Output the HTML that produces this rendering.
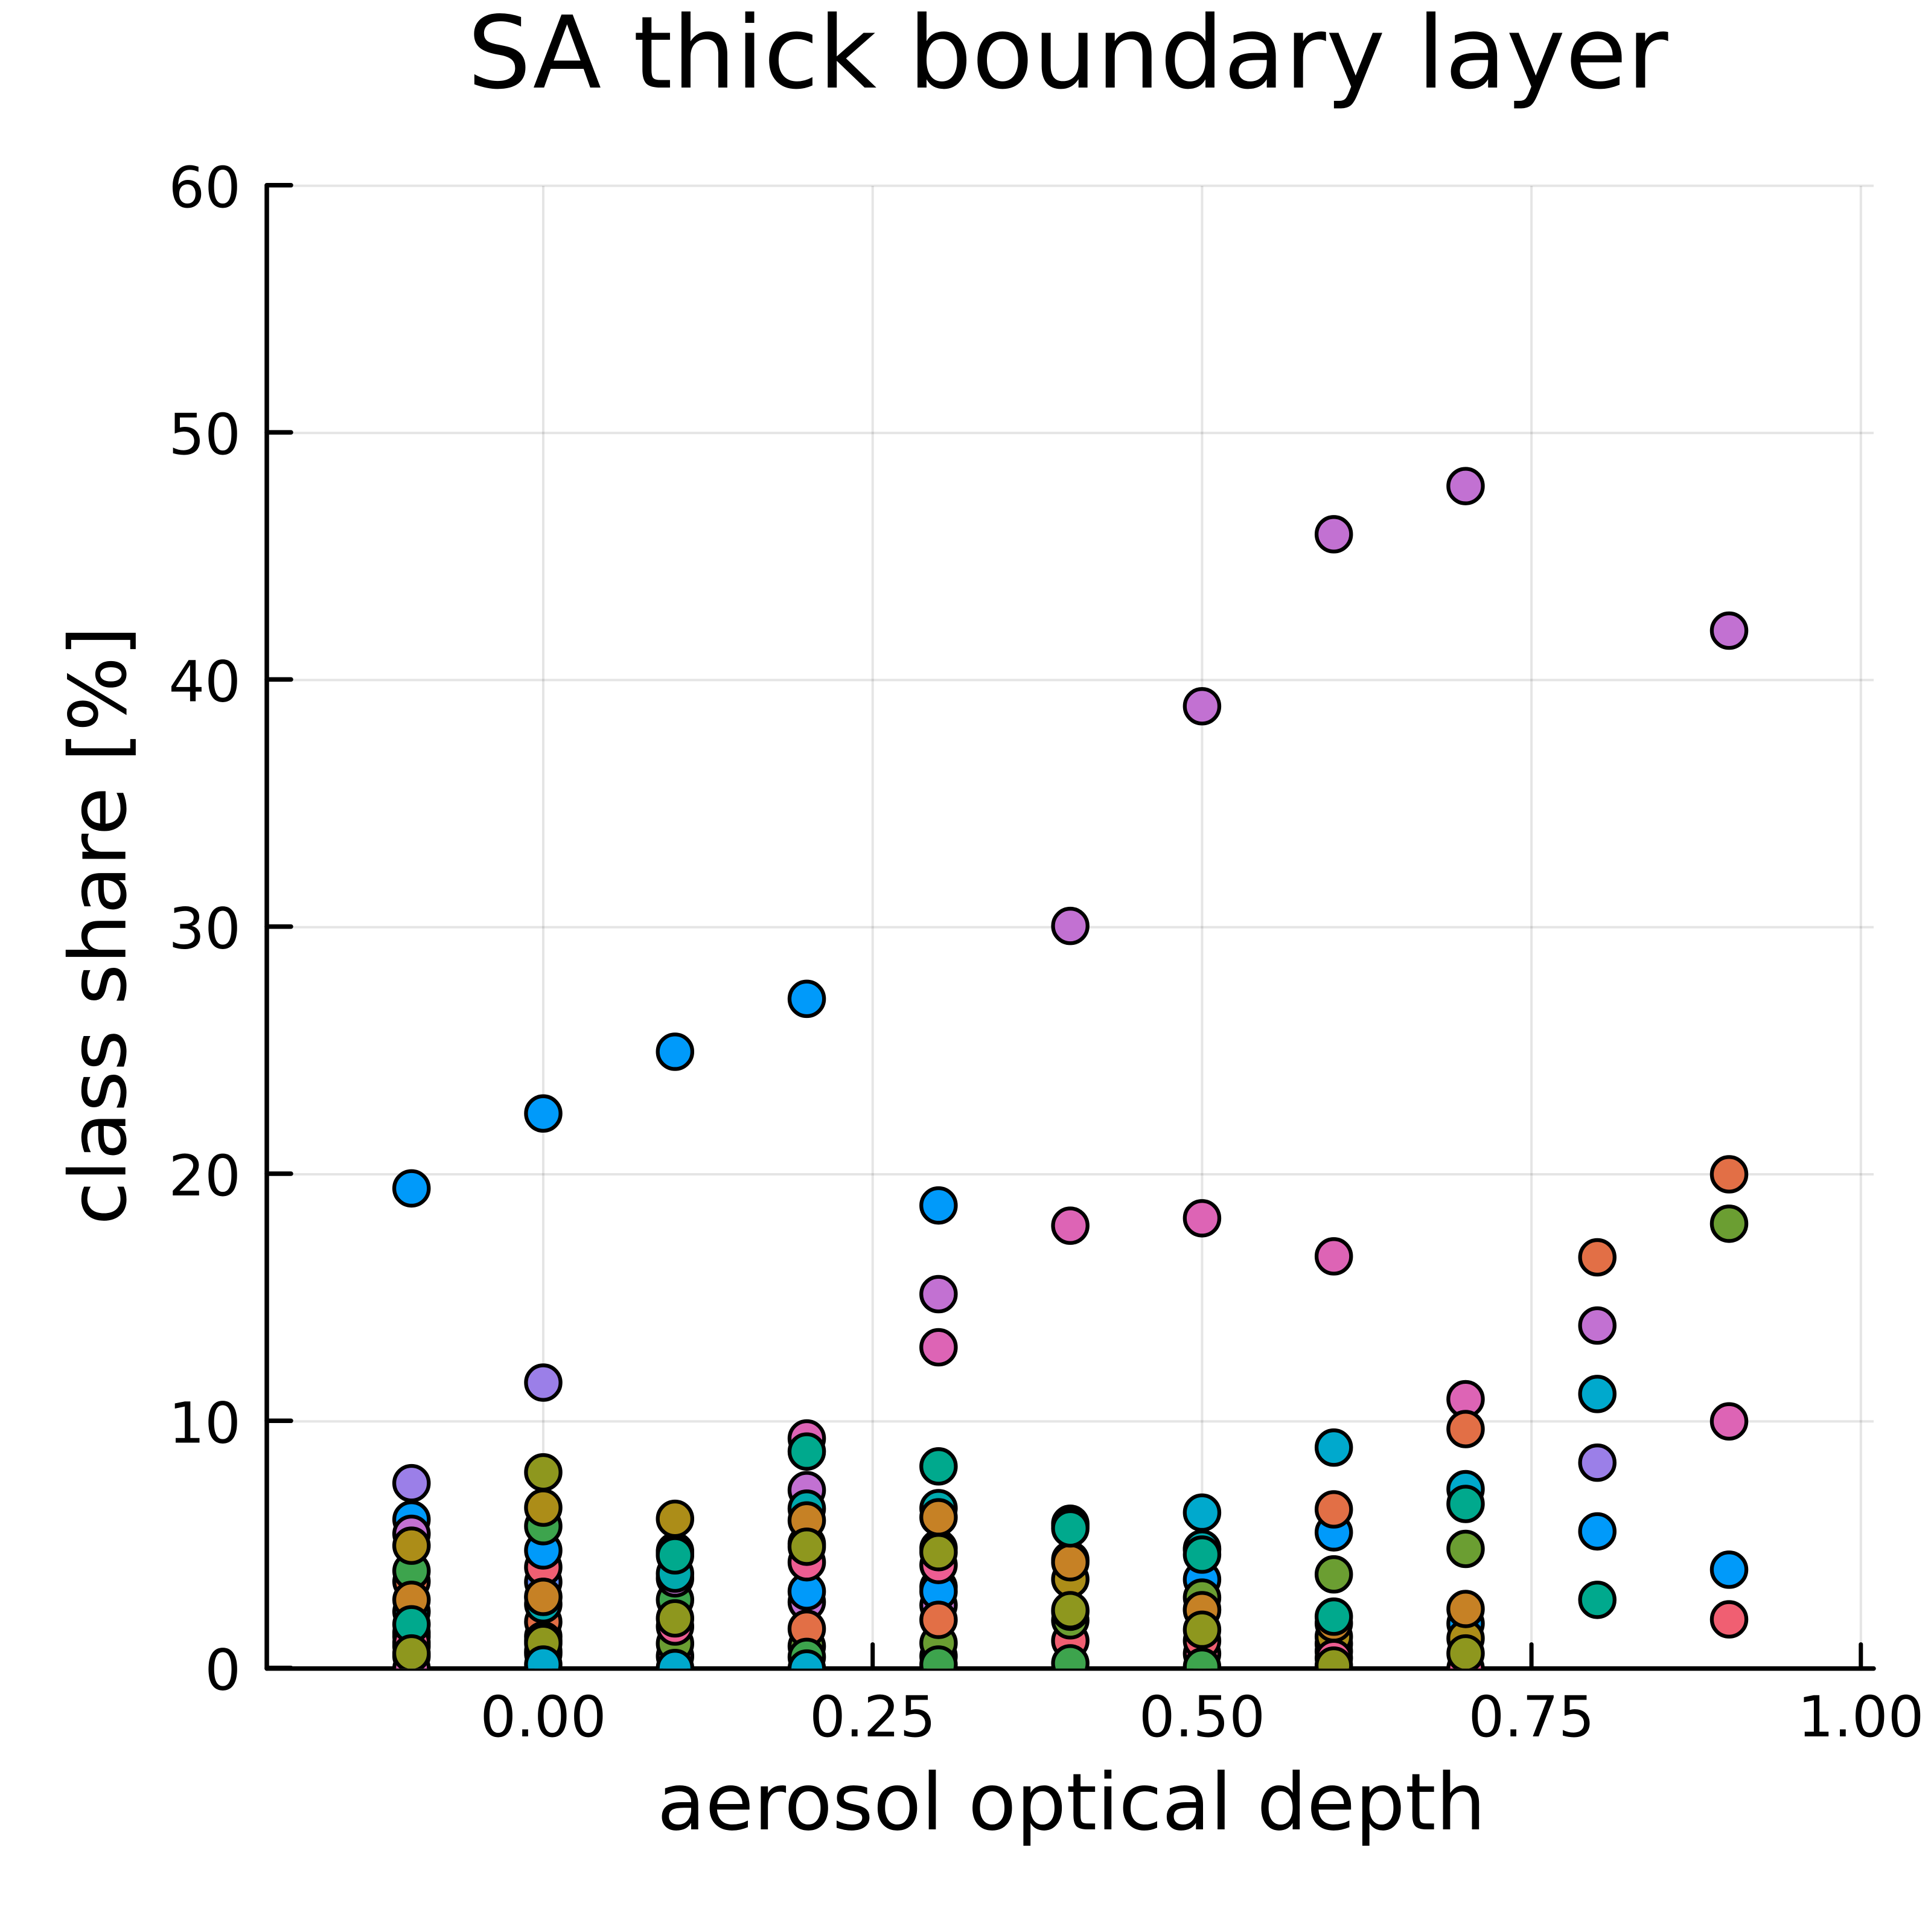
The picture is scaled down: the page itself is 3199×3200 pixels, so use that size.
<!DOCTYPE html>
<html lang="en">
<head>
<meta charset="utf-8">
<title>SA thick boundary layer</title>
<style>
html,body{margin:0;padding:0;background:#fff;}
svg{display:block;}
text{font-family:"DejaVu Sans","Liberation Sans",sans-serif;fill:#000;}
</style>
</head>
<body>
<svg id="chart" xmlns="http://www.w3.org/2000/svg" width="3199" height="3200" viewBox="0 0 3199 3200">
<rect x="0" y="0" width="3199" height="3200" fill="#ffffff"/>
<defs><clipPath id="plot-clip"><rect x="442" y="300" width="2662" height="2463.6"/></clipPath></defs>
<text x="1769" y="145" font-size="165.8" text-anchor="middle">SA thick boundary layer</text>
<text x="1775" y="3030" font-size="130.2" text-anchor="middle">aerosol optical depth</text>
<text transform="translate(207.7 1533) rotate(-90)" x="0" y="0" font-size="130.2" text-anchor="middle">class share [%]</text>
<g id="grid"></g>
<g id="axes"></g>
<g id="marks" clip-path="url(#plot-clip)"></g>
</svg>
<script>
const xTickValues = [0, 0.25, 0.5, 0.75, 1];
const xTickLabels = ["0.00", "0.25", "0.50", "0.75", "1.00"];
const yTickValues = [0, 10, 20, 30, 40, 50, 60];
const yTickLabels = ["0", "10", "20", "30", "40", "50", "60"];
const palette = ["#009AFA","#E26F46","#3DA44D","#C271D2","#AC8D18","#00A9AD","#ED5D92","#C68125","#00A98D","#8E971E","#00A9CD","#9B7FE8","#618CF7","#F05F72","#DD64B5","#6B9E32"];

const aodValues = [-0.1, 0, 0.1, 0.2, 0.3, 0.4, 0.5, 0.6, 0.7, 0.8, 0.9];

const sharesAodM01 = [1.30, 0.90, 0.50, 0.00, 1.45, 19.43, 6.03, 3.52, 3.95, 5.45, 4.97, 2.30, 1.05, 2.78, 1.79, 7.50, 0.61];
const classesAodM01 = [13, 14, 6, 15, 16, 1, 1, 2, 3, 4, 5, 6, 7, 8, 9, 12, 10];

const sharesAod00 = [11.57, 7.94, 3.50, 4.10, 0.60, 1.30, 22.46, 4.78, 1.89, 5.76, 1.14, 6.51, 2.60, 2.90, 2.90, 0.70, 1.03, 0.16];
const classesAod00 = [12, 10, 13, 14, 15, 16, 1, 1, 2, 3, 4, 5, 6, 7, 8, 9, 10, 11];

const sharesAod01 = [0.50, 1.01, 24.96, 4.75, 4.70, 2.78, 3.65, 6.06, 3.84, 1.70, 4.65, 4.58, 2.03, 0.02];
const classesAod01 = [15, 16, 1, 1, 2, 3, 4, 5, 6, 7, 8, 9, 10, 11];

const sharesAod02 = [2.69, 9.31, 0.90, 27.10, 3.12, 1.61, 0.47, 7.22, 5.05, 6.47, 4.30, 5.99, 8.78, 4.93, 0.00];
const classesAod02 = [4, 15, 16, 1, 1, 2, 3, 4, 5, 6, 7, 8, 9, 10, 11];

const sharesAod03 = [0.50, 2.56, 1.03, 18.74, 3.30, 3.12, 15.15, 13.00, 6.49, 4.87, 4.19, 6.12, 8.18, 4.71, 1.97, 0.16];
const classesAod03 = [14, 4, 16, 1, 11, 1, 4, 15, 6, 5, 7, 8, 9, 10, 2, 3];

const sharesAod04 = [30.05, 17.92, 5.86, 5.78, 4.40, 1.12, 1.95, 2.30, 3.61, 4.30, 5.67, 2.36, 0.21];
const classesAod04 = [4, 15, 11, 6, 1, 14, 16, 2, 5, 8, 9, 10, 3];

const sharesAod05 = [38.94, 18.22, 0.60, 1.12, 2.40, 3.60, 2.87, 4.81, 4.85, 2.36, 4.61, 1.57, 6.31, 0.07];
const classesAod05 = [4, 15, 7, 14, 5, 1, 16, 2, 6, 8, 9, 10, 11, 3];

const sharesAod06 = [45.90, 16.68, 1.00, 0.70, 8.94, 5.51, 6.44, 3.81, 1.29, 0.42, 1.83, 2.10, 0.12];
const classesAod06 = [4, 15, 14, 3, 11, 1, 2, 16, 5, 7, 8, 9, 10];

const sharesAod07 = [47.85, 0.00, 10.90, 9.69, 7.26, 6.66, 4.84, 1.82, 1.22, 2.41, 0.61];
const classesAod07 = [4, 7, 15, 2, 11, 9, 16, 1, 5, 8, 10];

const sharesAod08 = [16.64, 13.88, 11.11, 8.33, 5.55, 2.78];
const classesAod08 = [2, 4, 11, 12, 1, 9];

const sharesAod09 = [20.00, 18.00, 10.00, 42.00, 4.00, 1.99];
const classesAod09 = [2, 16, 15, 4, 1, 14];

const columnShares = [sharesAodM01, sharesAod00, sharesAod01, sharesAod02, sharesAod03, sharesAod04, sharesAod05, sharesAod06, sharesAod07, sharesAod08, sharesAod09];
const columnClasses = [classesAodM01, classesAod00, classesAod01, classesAod02, classesAod03, classesAod04, classesAod05, classesAod06, classesAod07, classesAod08, classesAod09];

const NS = "http://www.w3.org/2000/svg";
function xScale(v) { return 900 + 2182.8 * v; }
function yScale(v) { return 2763.6 - 40.93 * v; }
function make(tag, attrs, parent) {
  const el = document.createElementNS(NS, tag);
  for (const k in attrs) el.setAttribute(k, attrs[k]);
  parent.appendChild(el);
  return el;
}
const grid = document.getElementById("grid");
const axes = document.getElementById("axes");
const marks = document.getElementById("marks");
const plotLeft = 442, plotRight = 3104, plotTop = 308, plotBottom = 2763.6;

xTickValues.forEach(function (v, i) {
  const px = xScale(v);
  const g = make("line", {x1: px, x2: px, y1: plotTop, y2: plotBottom, stroke: "#000", "stroke-opacity": 0.1, "stroke-width": 4}, grid);
  
  
  const t = make("line", {x1: px, x2: px, y1: plotBottom, y2: plotBottom - 40, stroke: "#000", "stroke-width": 7, "stroke-linecap": "round"}, axes);
  
  
  const l = make("text", {x: px, y: 2876, "font-size": 94, "text-anchor": "middle"}, axes);
  l.textContent = xTickLabels[i];
  
  
});
yTickValues.forEach(function (v, i) {
  const py = yScale(v);
  const g = make("line", {x1: plotLeft, x2: plotRight, y1: py, y2: py, stroke: "#000", "stroke-opacity": 0.1, "stroke-width": 4}, grid);
  
  
  const t = make("line", {x1: plotLeft, x2: plotLeft + 40, y1: py - 1, y2: py - 1, stroke: "#000", "stroke-width": 7.5, "stroke-linecap": "round"}, axes);
  
  
  const l = make("text", {x: 399, y: py + 35, "font-size": 94, "text-anchor": "end"}, axes);
  l.textContent = yTickLabels[i];
  
  
});
const yAxisLine = make("line", {x1: plotLeft, x2: plotLeft, y1: plotTop - 1, y2: plotBottom, stroke: "#000", "stroke-width": 7.5, "stroke-linecap": "round"}, axes);


const xAxisLine = make("line", {x1: plotLeft, x2: plotRight, y1: plotBottom, y2: plotBottom, stroke: "#000", "stroke-width": 7.5, "stroke-linecap": "round"}, axes);



aodValues.forEach(function (aod, c) {
  columnShares[c].forEach(function (share, i) {
    const m = make("circle", {cx: xScale(aod), cy: yScale(share), r: 28.6, fill: palette[columnClasses[c][i] - 1], stroke: "#000", "stroke-width": 6.3}, marks);
    
    
  });
});
</script>
</body>
</html>
